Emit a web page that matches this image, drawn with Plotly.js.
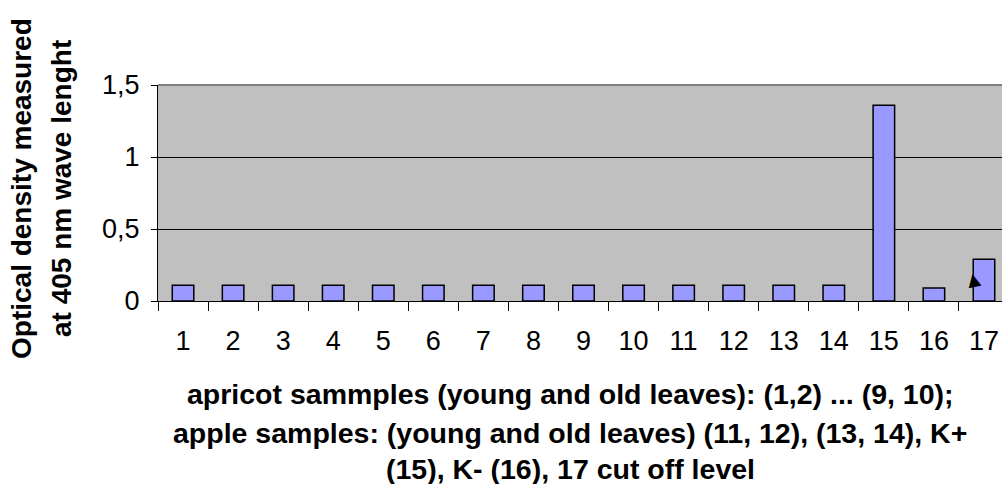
<!DOCTYPE html>
<html>
<head>
<meta charset="utf-8">
<script src="https://cdn.plot.ly/plotly-3.0.1.min.js"></script>
<style>html,body{margin:0;padding:0;background:#fff;}#chart{width:1003px;height:484px;}</style>
</head>
<body>
<div id="chart"></div>
<script>
const categories = ['1','2','3','4','5','6','7','8','9','10','11','12','13','14','15','16','17'];
const opticalDensity = [0.11,0.11,0.11,0.11,0.11,0.11,0.11,0.11,0.11,0.11,0.11,0.11,0.11,0.11,1.36,0.09,0.29];
const yTickValues = [0, 0.5, 1, 1.5];
const yTitleLines = ['Optical density measured', 'at 405 nm wave lenght'];
const xTitleLines = [
  'apricot sammples (young and old leaves): (1,2) ... (9, 10);',
  'apple samples: (young and old leaves) (11, 12), (13, 14), K+',
  '(15), K- (16), 17 cut off level'
];
const arrowMark = {cat: '17', value: 0.15};

const FONT = 'Arial, "Liberation Sans", sans-serif';

const trace = {
  type: 'bar',
  x: categories,
  y: opticalDensity,
  marker: {color: '#9999ff', line: {color: '#000000', width: 1.5}},
  hoverinfo: 'x+y'
};

const annotations = [];
yTitleLines.forEach((t, i) => {
  annotations.push({text: t, xref: 'paper', yref: 'paper', x: 0, y: 0.5,
    xshift: [-137, -97][i], yshift: 4, xanchor: 'center', yanchor: 'middle',
    textangle: -90, showarrow: false,
    font: {family: FONT, size: 28, color: '#000000', weight: 'bold'}});
});
xTitleLines.forEach((t, i) => {
  annotations.push({text: t, xref: 'paper', yref: 'paper', x: (570 - 158) / 844, y: 0,
    yshift: [-93, -132, -168][i], xanchor: 'center', yanchor: 'middle', showarrow: false,
    font: {family: FONT, size: 28.5, color: '#000000', weight: 'bold'}});
});
annotations.push({text: '\u25B2', x: categories.indexOf(arrowMark.cat), y: arrowMark.value,
  xref: 'x', yref: 'y', xshift: -10, xanchor: 'center', yanchor: 'middle',
  showarrow: false, textangle: -12,
  font: {family: '"DejaVu Sans", sans-serif', size: 17, color: '#000000'}});

const layout = {
  width: 1003,
  height: 484,
  margin: {l: 158, r: 1, t: 85, b: 183, pad: 0},
  paper_bgcolor: '#ffffff',
  plot_bgcolor: '#c0c0c0',
  separators: ',.',
  showlegend: false,
  bargap: 0.57,
  font: {family: FONT, color: '#000000', size: 27},
  xaxis: {
    type: 'category',
    range: [-0.5, 16.36],
    tickson: 'boundaries',
    ticks: 'outside',
    ticklen: 9,
    tickwidth: 1,
    tickcolor: '#000000',
    showline: true,
    linecolor: '#000000',
    linewidth: 1,
    showgrid: false,
    zeroline: false,
    tickfont: {family: FONT, size: 27, color: '#000000'},
    ticklabelstandoff: 16
  },
  yaxis: {
    range: [0, 1.5],
    tickvals: yTickValues,
    ticks: 'outside',
    ticklen: 6,
    tickwidth: 1,
    tickcolor: '#000000',
    showline: true,
    linecolor: '#000000',
    linewidth: 1,
    showgrid: true,
    gridcolor: '#000000',
    gridwidth: 1,
    zeroline: false,
    tickfont: {family: FONT, size: 27, color: '#000000'},
    ticklabelstandoff: 6
  },
  shapes: [
    {type: 'line', xref: 'paper', yref: 'paper', x0: 0, x1: 1, y0: 1, y1: 1,
     line: {color: '#808080', width: 2}}
  ],
  annotations: annotations
};

Plotly.newPlot('chart', [trace], layout, {displayModeBar: false, staticPlot: true});
</script>
</body>
</html>
